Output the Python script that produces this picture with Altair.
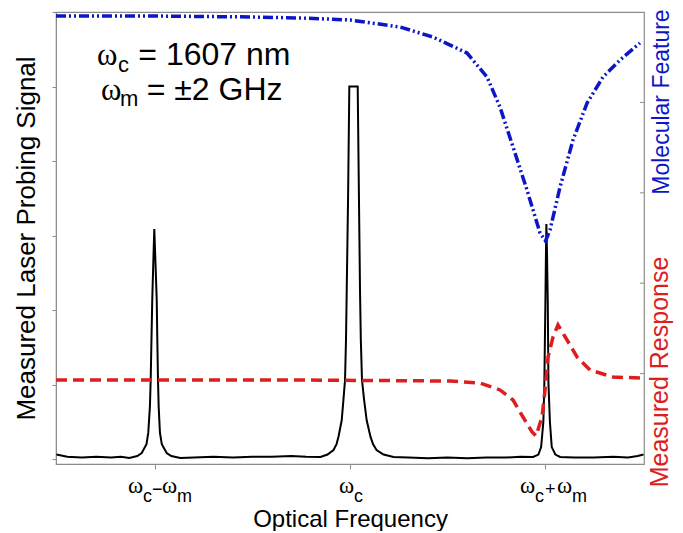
import altair as alt
import pandas as pd

# ---- data (x in GHz offset from the carrier, y arbitrary units) ----
probe_x = [-3.01, -2.9, -2.75, -2.6, -2.45, -2.35,
           -2.263, -2.181, -2.136, -2.087, -2.069, -2.052, -2.044, -2.036, -2.028, -2.018, -2.007,
           -1.994, -1.982, -1.976, -1.969, -1.962, -1.949, -1.930, -1.880, -1.833, -1.740,
           -1.6, -1.4, -1.2, -1.0, -0.8, -0.6, -0.45,
           -0.302, -0.231, -0.169, -0.138, -0.118, -0.085, -0.067, -0.051, -0.041, -0.034, -0.020, -0.007,
           0.079, 0.092, 0.103, 0.111, 0.123, 0.144, 0.171, 0.210, 0.236, 0.272, 0.344, 0.446,
           0.6, 0.8, 1.0, 1.2, 1.4, 1.6, 1.75,
           1.878, 1.932, 1.960, 1.983, 1.993, 2.004, 2.009, 2.014,
           2.021, 2.028, 2.035, 2.050, 2.069, 2.106, 2.155,
           2.3, 2.5, 2.7, 2.85, 2.95, 3.01]
probe_y = [0.06, 0.03, 0.02, 0.03, 0.02, 0.03,
           0.015, 0.04, 0.08, 0.2, 0.35, 0.7, 1.06, 1.6, 2.13, 2.6, 3.087,
           2.6, 2.13, 1.6, 1.06, 0.7, 0.35, 0.2, 0.08, 0.04, 0.015,
           0.02, 0.03, 0.02, 0.03, 0.03, 0.04, 0.03,
           0.027, 0.06, 0.12, 0.2, 0.3, 0.52, 0.8, 1.06, 1.6, 2.23, 3.48, 5.0,
           5.0, 3.48, 2.23, 1.6, 1.06, 0.8, 0.52, 0.3, 0.2, 0.12, 0.06, 0.027,
           0.02, 0.01, 0.02, 0.01, 0.02, 0.02, 0.03,
           0.027, 0.06, 0.16, 0.5, 1.02, 2.13, 2.7, 3.154,
           2.7, 2.13, 1.02, 0.5, 0.16, 0.06, 0.027,
           0.02, 0.02, 0.03, 0.02, 0.04, 0.06]

mol_x = [-3.015, -2.05, -1.026, -0.513, 0.0, 0.513, 0.851, 1.2, 1.405, 1.538, 1.672, 1.815,
         1.949, 2.005, 2.051, 2.154, 2.287, 2.431, 2.595, 2.769, 2.974]
mol_y = [4.956, 4.956, 4.945, 4.934, 4.912, 4.834, 4.723, 4.546, 4.281, 3.949, 3.507, 3.031,
         2.555, 2.467, 2.588, 3.064, 3.584, 3.993, 4.281, 4.469, 4.657]

resp_x = [-3.015, -0.513, 1.026, 1.333, 1.538, 1.672, 1.774, 1.867, 1.908, 1.969, 2.0, 2.031,
          2.082, 2.133, 2.226, 2.328, 2.462, 2.697, 2.995]
resp_y = [0.929, 0.929, 0.918, 0.896, 0.819, 0.708, 0.52, 0.354, 0.31, 0.52, 0.819, 1.184,
          1.405, 1.538, 1.372, 1.184, 1.04, 0.962, 0.951]

tick_pos = [-2, 0, 2]
left_ticks = [0, 1, 2, 3, 4, 5, 6]
right_ticks = [1, 2, 3, 4]

W, H = 588, 452
XD = [-3.015, 3.015]
YL = [-0.067, 6]
YR = [0, 5]
GRAY = "#8c8c8c"
BLUE = "#0c16c8"
RED = "#dc1e1e"
SANS = "Liberation Sans"
SERIF = "Liberation Serif"

xs = alt.Scale(domain=XD, zero=False, nice=False)
yls = alt.Scale(domain=YL, zero=False, nice=False)
yrs = alt.Scale(domain=YR, zero=False, nice=False)

probe = pd.DataFrame({"x": probe_x, "y": probe_y})
mol = pd.DataFrame({"x": mol_x, "y": mol_y})
resp = pd.DataFrame({"x": resp_x, "y": resp_y})

black = alt.Chart(probe).mark_line(color="black", strokeWidth=2).encode(
    x=alt.X("x:Q", scale=xs, axis=alt.Axis(values=tick_pos, labels=False, tickSize=5,
                                           title="Optical Frequency", titleFontSize=24,
                                           titleFont=SANS, titleFontWeight="normal",
                                           titlePadding=38, grid=False)),
    y=alt.Y("y:Q", scale=yls, axis=alt.Axis(values=left_ticks, labels=False, tickSize=4,
                                            title="Measured Laser Probing Signal",
                                            titleFontSize=26, titleFont=SANS,
                                            titleFontWeight="normal", titlePadding=12,
                                            grid=False)),
)

blue = alt.Chart(mol).mark_line(color=BLUE, strokeWidth=3.5, strokeDash=[10, 3, 2, 3, 2, 3]).encode(
    x=alt.X("x:Q", scale=xs), y=alt.Y("y:Q", scale=yrs, axis=None))
red = alt.Chart(resp).mark_line(color=RED, strokeWidth=3.5, strokeDash=[11, 6]).encode(
    x=alt.X("x:Q", scale=xs), y=alt.Y("y:Q", scale=yrs, axis=None))

rticks = alt.Chart(pd.DataFrame({"v": right_ticks})).mark_rule(color=GRAY, strokeWidth=1).encode(
    x=alt.value(W - 4), x2=alt.value(W), y=alt.Y("v:Q", scale=yrs, axis=None))

# annotation and tick-label text (positions in data units, alphabetic baselines)
ann_serif = pd.DataFrame({"t": ["ω", "ω"], "x": [-2.595, -2.554], "y": [5.289, 4.819]})
ann_sans = pd.DataFrame({"t": ["= 1607 nm", "c", "= ±2 GHz", "m"],
                         "x": [-2.171, -2.379, -2.085, -2.359],
                         "y": [5.289, 5.195, 4.819, 4.738],
                         "s": [32, 22, 32, 22]})
lab_serif = pd.DataFrame({"t": ["ω", "ω", "ω", "ω", "ω"],
                          "x": [-2.277, -1.928, -0.113, 1.744, 2.123],
                          "y": [-0.456] * 5})
lab_sans = pd.DataFrame({"t": ["c", "−", "m", "c", "c", "+", "m"],
                         "x": [-2.123, -2.031, -1.774, 0.041, 1.897, 2.0, 2.277],
                         "y": [-0.578, -0.483, -0.578, -0.578, -0.578, -0.483, -0.578]})

def txt(df, font, size=None):
    enc = dict(x=alt.X("x:Q", scale=xs), y=alt.Y("y:Q", scale=yls, axis=None), text="t:N")
    if size is None:
        enc["size"] = alt.Size("s:Q", scale=None, legend=None)
        m = alt.Chart(df).mark_text(font=font, align="left", baseline="alphabetic", color="black")
    else:
        m = alt.Chart(df).mark_text(font=font, align="left", baseline="alphabetic", color="black",
                                    fontSize=size)
    return m.encode(**enc)

t1 = txt(ann_serif, SERIF, 31)
t2 = txt(ann_sans, SANS)
t3 = txt(lab_serif, SERIF, 23)
t4 = txt(lab_sans, SANS, 18)

rtitles = pd.DataFrame({"t": ["Molecular Feature", "Measured Response"],
                        "x": [3.20, 3.175], "y": [4.004, 1.018], "c": ["b", "r"],
                        "s": [23, 25]})
rt = alt.Chart(rtitles).mark_text(font=SANS, angle=270, align="center",
                                  baseline="middle").encode(
    x=alt.X("x:Q", scale=xs), y=alt.Y("y:Q", scale=yrs, axis=None), text="t:N",
    size=alt.Size("s:Q", scale=None, legend=None),
    color=alt.Color("c:N", scale=alt.Scale(domain=["b", "r"], range=[BLUE, RED]), legend=None))

chart = alt.layer(black, blue, red, rticks, t1, t2, t3, t4, rt).resolve_scale(
    y="independent").properties(
    width=W, height=H,
    padding={"left": 48, "top": 4, "right": 30, "bottom": 67},
    autosize=alt.AutoSizeParams(type="none"),
).configure_view(stroke=GRAY, strokeWidth=1.2).configure_axis(
    domainColor=GRAY, tickColor=GRAY, titleColor="black")

chart.save("out.html", embed_options={"renderer": "svg", "actions": False})
